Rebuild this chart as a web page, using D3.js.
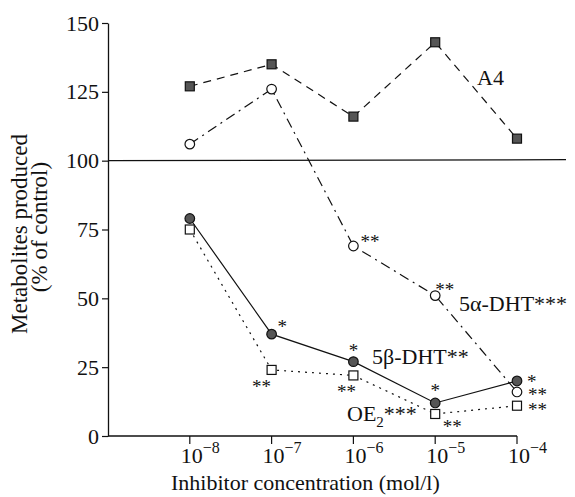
<!DOCTYPE html>
<html>
<head>
<meta charset="utf-8">
<script src="https://cdn.jsdelivr.net/npm/d3@7"></script>
<style>
  body { margin: 0; background: #fff; }
  text { font-family: "Liberation Serif", "Times New Roman", "DejaVu Serif", serif; fill: #111; }
</style>
</head>
<body>
<script>

var width  = 575;
var height = 497;

// inhibitor concentrations (mol/l)
var concentrations = [ 1e-8, 1e-7, 1e-6, 1e-5, 1e-4 ];
var tickExponents  = [ -8, -7, -6, -5, -4 ];
var yTicks         = [ 0, 25, 50, 75, 100, 125, 150 ];

// metabolites produced, % of control
var a4     = [ 127, 135, 116, 143, 108 ];
var dht5a  = [ 106, 126,  69,  51,  16 ];
var dht5b  = [  79,  37,  27,  12,  20 ];
var oe2    = [  75,  24,  22,   8,  11 ];

// significance marks
var a4Stars    = [ '', '', '', '', '' ];
var dht5aStars = [ '', '', '**', '**', '**' ];
var dht5bStars = [ '', '*', '*', '*', '*' ];
var oe2Stars   = [ '', '**', '**', '**', '**' ];

var x = d3.scaleLog().domain([1e-9, 1e-4]).range([108, 517]);
var y = d3.scaleLinear().domain([0, 150]).range([436, 23]);

var svg = d3.select('body')
            .append('svg')
            .attr('width', width)
            .attr('height', height);

// y axis
var yAxis = svg.append('g')
               .attr('transform', 'translate(' + x(1e-9) + ',0)')
               .call(d3.axisLeft(y).tickValues(yTicks).tickSize(6).tickSizeOuter(0).tickPadding(3));
yAxis.select('.domain').attr('stroke', '#111').attr('stroke-width', 1.3);
yAxis.selectAll('.tick line').attr('stroke', '#111').attr('stroke-width', 1.2);
yAxis.selectAll('.tick text')
     .attr('font-family', '"Liberation Serif", serif')
     .attr('font-size', 22)
     .attr('fill', '#111');

// x axis (line + ticks, labels done by hand for the superscripts)
var xAxis = svg.append('g');
xAxis.append('line')
     .attr('x1', x(1e-9)).attr('x2', x(1e-4))
     .attr('y1', y(0)).attr('y2', y(0))
     .attr('stroke', '#111').attr('stroke-width', 1.3);
xAxis.selectAll('line.tk')
     .data(concentrations)
     .enter()
     .append('line')
     .attr('class', 'tk')
     .attr('x1', function(d){ return x(d); })
     .attr('x2', function(d){ return x(d); })
     .attr('y1', y(0)).attr('y2', y(0) + 8)
     .attr('stroke', '#111').attr('stroke-width', 1.2);
var xl = xAxis.selectAll('text.tl')
     .data(concentrations)
     .enter()
     .append('text')
     .attr('class', 'tl')
     .attr('x', function(d){ return x(d) - 9; })
     .attr('y', 463)
     .attr('font-size', 22);
xl.append('tspan').text('10');
xl.append('tspan')
  .attr('dy', -10)
  .attr('font-size', 16)
  .text(function(d, i){ return '\u2212' + (-tickExponents[i]); });

// control line at 100 %
svg.append('line')
   .attr('x1', x(1e-9)).attr('x2', 566)
   .attr('y1', y(100)).attr('y2', y(100) - 1)
   .attr('stroke', '#111').attr('stroke-width', 1.3);

// axis titles
svg.append('text')
   .attr('x', 171).attr('y', 490)
   .attr('font-size', 22)
   .text('Inhibitor concentration (mol/l)');

svg.append('text')
   .attr('transform', 'translate(27,234) rotate(-90)')
   .attr('text-anchor', 'middle')
   .attr('font-size', 23)
   .text('Metabolites produced');
svg.append('text')
   .attr('transform', 'translate(47,227) rotate(-90)')
   .attr('text-anchor', 'middle')
   .attr('font-size', 23)
   .text('(% of control)');

var series = [
    { values: a4,    stars: a4Stars,    dash: '8,6',          marker: 'square', filled: true  }
  , { values: dht5a, stars: dht5aStars, dash: '10,5,2,5',     marker: 'circle', filled: false }
  , { values: dht5b, stars: dht5bStars, dash: null,           marker: 'circle', filled: true  }
  , { values: oe2,   stars: oe2Stars,   dash: '2,5',          marker: 'square', filled: false }
];

var line = d3.line()
             .x(function(d, i){ return x(concentrations[i]); })
             .y(function(d){ return y(d); });

series.forEach(function(s){
    svg.append('path')
       .datum(s.values)
       .attr('d', line)
       .attr('fill', 'none')
       .attr('stroke', '#111')
       .attr('stroke-width', 1.2)
       .attr('stroke-dasharray', s.dash);
});

series.forEach(function(s){
    var g = svg.append('g');
    if (s.marker === 'square') {
        g.selectAll('rect')
         .data(s.values)
         .enter()
         .append('rect')
         .attr('x', function(d, i){ return x(concentrations[i]) - 4.5; })
         .attr('y', function(d){ return y(d) - 4.5; })
         .attr('width', 9).attr('height', 9)
         .attr('fill', s.filled ? '#555' : '#fff')
         .attr('stroke', '#111')
         .attr('stroke-width', 1.2);
    } else {
        g.selectAll('circle')
         .data(s.values)
         .enter()
         .append('circle')
         .attr('cx', function(d, i){ return x(concentrations[i]); })
         .attr('cy', function(d){ return y(d); })
         .attr('r', 4.8)
         .attr('fill', s.filled ? '#555' : '#fff')
         .attr('stroke', '#111')
         .attr('stroke-width', 1.2);
    }
});

// star offsets relative to each point: [dx, dy, anchor]
var starOffsets = [
    [ [0,0,'start'], [0,0,'start'], [0,0,'start'], [0,0,'start'], [0,0,'start'] ]
  , [ [0,0,'start'], [0,0,'start'], [7,2,'start'], [0,0,'start'], [11,9,'start'] ]
  , [ [0,0,'start'], [6,-1,'start'], [0,-5,'middle'], [0,-6,'middle'], [10,7,'start'] ]
  , [ [0,0,'start'], [-10,23,'middle'], [-7,23,'middle'], [17,19,'middle'], [11,10,'start'] ]
];

series.forEach(function(s, k){
    svg.append('g')
       .selectAll('text')
       .data(s.values)
       .enter()
       .append('text')
       .attr('x', function(d, i){ return x(concentrations[i]) + starOffsets[k][i][0]; })
       .attr('y', function(d, i){ return y(d) + starOffsets[k][i][1]; })
       .attr('text-anchor', function(d, i){ return starOffsets[k][i][2]; })
       .attr('font-size', 19)
       .text(function(d, i){ return s.stars[i]; });
});

// series labels
svg.append('text').attr('x', 477).attr('y', 85).attr('font-size', 22).text('A4');
svg.append('text').attr('x', 459).attr('y', 311).attr('font-size', 22).text('5\u03b1-DHT***');
svg.append('text').attr('x', 372).attr('y', 364).attr('font-size', 22).text('5\u03b2-DHT**');
var oeLabel = svg.append('text').attr('x', 347).attr('y', 421).attr('font-size', 22);
oeLabel.append('tspan').text('OE');
oeLabel.append('tspan').attr('dy', 6).attr('font-size', 15).text('2');
oeLabel.append('tspan').attr('dy', -6).text('***');

</script>
</body>
</html>
